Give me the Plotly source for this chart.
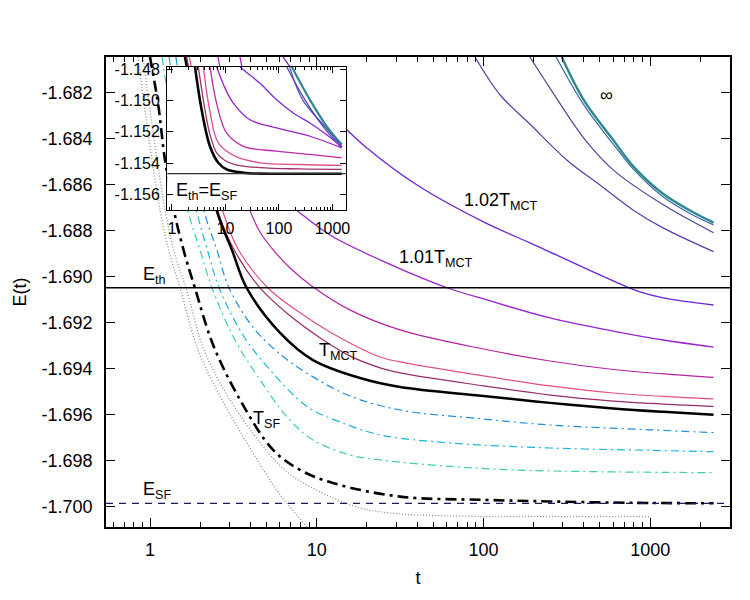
import plotly.graph_objects as go

# ---------------- tick labels ----------------
x_ticks = [1, 10, 100, 1000]
x_ticktext = ["1", "10", "100", "1000"]
y_ticks = [-1.682, -1.684, -1.686, -1.688, -1.690, -1.692, -1.694, -1.696, -1.698, -1.700]
y_ticktext = ["-1.682", "-1.684", "-1.686", "-1.688", "-1.690", "-1.692", "-1.694", "-1.696", "-1.698", "-1.700"]
inset_y_ticks = [-1.148, -1.150, -1.152, -1.154, -1.156]
inset_y_ticktext = ["-1.148", "-1.150", "-1.152", "-1.154", "-1.156"]

# ---------------- reference energies ----------------
E_th = -1.69048
E_SF = -1.69984
E_th_inset = -1.15466

# ---------------- main panel curves: t, E(t) ----------------
t_dotA = [0.847, 0.933, 1.028, 1.164, 1.318, 1.514, 1.941, 2.704, 3.98, 5.86, 8.71, 10.5]
E_dotA = [-1.68046, -1.68276, -1.68493, -1.68732, -1.68906, -1.69049, -1.69318, -1.69535, -1.69744, -1.69935, -1.70087, -1.70165]

t_dotB = [0.908, 1.0, 1.102, 1.247, 1.413, 1.644, 2.109, 3.02, 4.70, 6.64, 10.5, 18.2, 31.6, 99.5, 250, 1000]
E_dotB = [-1.68046, -1.68276, -1.68493, -1.68732, -1.68906, -1.69049, -1.69318, -1.69535, -1.69731, -1.69848, -1.69935, -1.70004, -1.70030, -1.70041, -1.70042, -1.70042]

t_sf = [1.0, 1.12, 1.23, 1.41, 1.62, 1.86, 2.39, 3.47, 5.47, 7.94, 12.5, 31.6, 100, 250, 800, 2400]
E_sf = [-1.68046, -1.68254, -1.68493, -1.68732, -1.68906, -1.69049, -1.69296, -1.69535, -1.69752, -1.69839, -1.69896, -1.69955, -1.69969, -1.69976, -1.69982, -1.69984]

t_green = [1.18, 1.318, 1.472, 1.714, 1.995, 2.355, 3.235, 4.57, 6.64, 9.5, 15.8, 24, 63, 150, 500, 2400]
E_green = [-1.68046, -1.68276, -1.68493, -1.68732, -1.68884, -1.69049, -1.69275, -1.69448, -1.69609, -1.69709, -1.69774, -1.69796, -1.69824, -1.69839, -1.69847, -1.69851]

t_cyan = [1.30, 1.46, 1.64, 1.93, 2.21, 2.60, 3.61, 5.25, 8.75, 13.8, 24, 63, 251, 1000, 2400]
E_cyan = [-1.68046, -1.68276, -1.68493, -1.68732, -1.68884, -1.69049, -1.69253, -1.69405, -1.69564, -1.69631, -1.69687, -1.69722, -1.69744, -1.69754, -1.69760]

t_blue = [1.43, 1.60, 1.81, 2.14, 2.52, 2.98, 4.27, 6.45, 9.5, 15.8, 31.6, 100, 251, 1000, 2400]
E_blue = [-1.68046, -1.68276, -1.68493, -1.68732, -1.68884, -1.69049, -1.69231, -1.69353, -1.69435, -1.69518, -1.69579, -1.69618, -1.69644, -1.69665, -1.69677]

t_mct = [1.62, 1.86, 2.13, 2.56, 3.10, 3.80, 6.03, 9.5, 18.2, 31.6, 100, 251, 600, 1200, 2400]
E_mct = [-1.68046, -1.68276, -1.68493, -1.68732, -1.68884, -1.69049, -1.69244, -1.69362, -1.69440, -1.69479, -1.69518, -1.69548, -1.69572, -1.69587, -1.69600]

t_e = [1.66, 1.90, 2.18, 2.60, 3.20, 4.57, 6.92, 10.5, 15.8, 24, 31.6, 100, 251, 600, 1200, 2400]
E_e = [-1.68046, -1.68276, -1.68493, -1.68732, -1.68884, -1.69049, -1.69170, -1.69266, -1.69344, -1.69396, -1.69418, -1.69474, -1.69514, -1.69540, -1.69553, -1.69563]

t_d = [1.72, 2.00, 2.30, 2.78, 3.40, 5.1, 7.94, 12.0, 24, 31.6, 100, 251, 600, 1200, 2400]
E_d = [-1.68046, -1.68276, -1.68493, -1.68732, -1.68884, -1.69049, -1.69157, -1.69240, -1.69349, -1.69370, -1.69431, -1.69474, -1.69505, -1.69520, -1.69531]

t_c = [2.558, 2.94, 3.33, 3.87, 4.57, 5.62, 6.92, 9.33, 15.8, 31.6, 100, 251, 600, 1200, 2400]
E_c = [-1.68046, -1.68276, -1.68493, -1.68688, -1.68806, -1.68893, -1.68962, -1.69040, -1.69144, -1.69231, -1.69314, -1.69366, -1.69403, -1.69422, -1.69437]

t_101 = [3.467, 4.03, 4.9, 6.45, 7.94, 12.0, 24, 60.5, 105, 251, 600, 1200, 2400]
E_101 = [-1.68046, -1.68276, -1.68493, -1.68667, -1.68723, -1.68819, -1.68927, -1.69048, -1.69101, -1.69179, -1.69236, -1.69275, -1.69306]

t_102 = [6.28, 7.94, 10.0, 14.8, 20, 40, 100, 190, 251, 600, 870, 1200, 2400]
E_102 = [-1.68046, -1.68146, -1.68220, -1.68354, -1.68441, -1.68602, -1.68762, -1.68853, -1.68893, -1.69018, -1.69066, -1.69092, -1.69123]

t_L4 = [89, 126, 190, 316, 500, 789, 1195, 2400]
E_L4 = [-1.68046, -1.68211, -1.68337, -1.68493, -1.68602, -1.68710, -1.68788, -1.68891]

t_L3 = [190, 250, 400, 600, 1200, 2400]
E_L3 = [-1.68046, -1.68180, -1.68398, -1.68536, -1.68688, -1.68809]

t_L2 = [273, 400, 600, 800, 1200, 1800, 2400]
E_L2 = [-1.68046, -1.68254, -1.68424, -1.68536, -1.68654, -1.68732, -1.68775]

t_inf = [295, 400, 600, 800, 1200, 1800, 2400]
E_inf = [-1.68046, -1.68233, -1.68406, -1.68524, -1.68641, -1.68719, -1.68765]

# ---------------- inset curves ----------------
ti_black = [2.69, 3.58, 5.12, 7.33, 10.5, 21.5, 44.3, 157, 1489]
Ei_black = [-1.14785, -1.15059, -1.15292, -1.15397, -1.15439, -1.15460, -1.15466, -1.15467, -1.15467]
ti_p5 = [3.10, 4.14, 5.13, 6.85, 9.77, 15.1, 44.2, 247, 1489]
Ei_p5 = [-1.14785, -1.15060, -1.15218, -1.15334, -1.15382, -1.15408, -1.15428, -1.15436, -1.15439]
ti_p4 = [3.85, 5.13, 7.34, 15.1, 44.2, 247, 1489]
Ei_p4 = [-1.14785, -1.15072, -1.15270, -1.15355, -1.15397, -1.15408, -1.15414]
ti_p3 = [5.13, 6.93, 10.5, 21.5, 90.4, 379, 1489]
Ei_p3 = [-1.14785, -1.15028, -1.15207, -1.15292, -1.15323, -1.15344, -1.15365]
ti_p2 = [6.85, 9.77, 14.0, 28.7, 90.4, 379, 1489]
Ei_p2 = [-1.14785, -1.14920, -1.15017, -1.15123, -1.15175, -1.15228, -1.15302]
ti_p1 = [16.9, 20.1, 44.2, 90.4, 185, 379, 780, 1489]
Ei_p1 = [-1.1477, -1.14796, -1.14891, -1.14996, -1.15080, -1.15144, -1.15218, -1.15296]
ti_purp = [139, 307, 694, 1489]
Ei_purp = [-1.14785, -1.14996, -1.15173, -1.15302]
ti_blue = [157, 277, 736, 1489]
Ei_blue = [-1.14785, -1.14996, -1.15170, -1.15292]
ti_teal = [173, 247, 379, 780, 1489]
Ei_teal = [-1.14785, -1.14882, -1.14996, -1.15165, -1.15281]

# ---------------- axes ranges ----------------
main_xrange = [-0.264, 3.479]
main_yrange = [-1.70087, -1.68046]
inset_xrange = [-0.088, 3.247]
inset_yrange = [-1.156975, -1.14785]

FONT = "Liberation Sans, Arial, Helvetica, sans-serif"
DD = "8px,4px,2px,4px"
DD_THICK = "11px,5px,3px,5px"
SMOOTH = 1.0

fig = go.Figure()

main_styles = [
    (t_dotA, E_dotA, "#8c8c8c", 1.3, "1px,2px"),
    (t_dotB, E_dotB, "#8c8c8c", 1.3, "1px,2px"),
    (t_green, E_green, "#3ccfae", 1.2, DD),
    (t_cyan, E_cyan, "#1cb6d8", 1.2, DD),
    (t_blue, E_blue, "#1c8ee6", 1.2, DD),
    (t_sf, E_sf, "black", 2.6, DD_THICK),
    (t_L4, E_L4, "#5a3cb0", 1.2, "solid"),
    (t_L3, E_L3, "#4848a0", 1.2, "solid"),
    (t_L2, E_L2, "#3b66a8", 1.2, "solid"),
    (t_inf, E_inf, "#2b8a8c", 2.4, "solid"),
    (t_102, E_102, "#6c24d8", 1.3, "solid"),
    (t_101, E_101, "#9b22d2", 1.3, "solid"),
    (t_c, E_c, "#b8229e", 1.2, "solid"),
    (t_d, E_d, "#e2507c", 1.2, "solid"),
    (t_e, E_e, "#9a2a6a", 1.2, "solid"),
    (t_mct, E_mct, "black", 2.5, "solid"),
]
for tx, ey, col, w, dash in main_styles:
    fig.add_trace(go.Scatter(x=tx, y=ey, mode="lines", xaxis="x", yaxis="y",
                             line=dict(color=col, width=w, dash=dash, shape="spline", smoothing=SMOOTH),
                             hoverinfo="skip"))

# inset white background (covers main curves under the inset)
x0i, x1i = 10 ** inset_xrange[0], 10 ** inset_xrange[1]
fig.add_trace(go.Scatter(x=[x0i, x1i, x1i, x0i, x0i],
                         y=[inset_yrange[0], inset_yrange[0], inset_yrange[1], inset_yrange[1], inset_yrange[0]],
                         mode="lines", fill="toself", fillcolor="white", line=dict(width=0),
                         xaxis="x2", yaxis="y2", hoverinfo="skip"))

inset_styles = [
    (ti_teal, Ei_teal, "#2b8a8c", 2.2),
    (ti_blue, Ei_blue, "#3f5aa8", 1.2),
    (ti_purp, Ei_purp, "#6434c0", 1.2),
    (ti_p1, Ei_p1, "#7a2ad8", 1.3),
    (ti_p2, Ei_p2, "#9a22cc", 1.3),
    (ti_p3, Ei_p3, "#c02aa8", 1.3),
    (ti_p4, Ei_p4, "#e0508a", 1.3),
    (ti_p5, Ei_p5, "#a0306a", 1.3),
    (ti_black, Ei_black, "black", 2.6),
]
for tx, ey, col, w in inset_styles:
    fig.add_trace(go.Scatter(x=tx, y=ey, mode="lines", xaxis="x2", yaxis="y2",
                             line=dict(color=col, width=w, shape="spline", smoothing=SMOOTH),
                             hoverinfo="skip"))

minor_main = [m * 10 ** k for k in range(-1, 4) for m in range(2, 10)
              if 10 ** main_xrange[0] < m * 10 ** k < 10 ** main_xrange[1]]
minor_inset = [m * 10 ** k for k in range(-1, 4) for m in range(2, 10)
               if 10 ** inset_xrange[0] < m * 10 ** k < 10 ** inset_xrange[1]]

axis_common = dict(showline=True, linecolor="black", mirror="ticks", ticks="inside",
                   tickcolor="black", showgrid=False, zeroline=False)

fig.update_layout(
    width=750, height=600, autosize=False,
    margin=dict(l=106, r=20, t=57, b=73, pad=0),
    paper_bgcolor="white", plot_bgcolor="white",
    showlegend=False,
    font=dict(family=FONT, size=18, color="black"),
    xaxis=dict(type="log", range=main_xrange, domain=[0, 1], anchor="y",
               linewidth=1.5, ticklen=9, tickwidth=1.2,
               tickvals=x_ticks, ticktext=x_ticktext, tickfont=dict(size=18),
               minor=dict(tickvals=minor_main, ticks="inside", ticklen=5, tickwidth=1, tickcolor="black"),
               ticklabelstandoff=6,
               title=dict(text="t", font=dict(size=18), standoff=12), automargin=False,
               **axis_common),
    yaxis=dict(range=main_yrange, domain=[0, 1], anchor="x",
               linewidth=1.5, ticklen=9, tickwidth=1.2,
               tickvals=y_ticks, ticktext=y_ticktext, tickfont=dict(size=18),
               ticklabelstandoff=8,
               title=dict(text="E(t)", font=dict(size=18), standoff=10), automargin=False,
               **axis_common),
    xaxis2=dict(type="log", range=inset_xrange, domain=[0.0982, 0.3841], anchor="y2",
                linewidth=1.3, ticklen=6, tickwidth=1,
                tickvals=x_ticks, ticktext=x_ticktext, tickfont=dict(size=16),
                minor=dict(tickvals=minor_inset, ticks="inside", ticklen=3, tickwidth=1, tickcolor="black"),
                ticklabelstandoff=4, automargin=False,
                **axis_common),
    yaxis2=dict(range=inset_yrange, domain=[0.6745, 0.9794], anchor="x2",
                linewidth=1.3, ticklen=6, tickwidth=1,
                tickvals=inset_y_ticks, ticktext=inset_y_ticktext, tickfont=dict(size=16),
                ticklabelstandoff=3, automargin=False,
                **axis_common),
)

# reference energy lines
fig.add_shape(type="line", xref="x domain", x0=0, x1=1, yref="y", y0=E_th, y1=E_th,
              line=dict(color="black", width=1.3))
fig.add_shape(type="line", xref="x domain", x0=0, x1=1, yref="y", y0=E_SF, y1=E_SF,
              line=dict(color="#1a1a5e", width=1.2, dash="7px,6px"))
fig.add_shape(type="line", xref="x2 domain", x0=0, x1=1, yref="y2", y0=E_th_inset, y1=E_th_inset,
              line=dict(color="#333333", width=1.2))

ann_font = dict(family=FONT, size=18, color="black")
labels = [
    ("E<sub>th</sub>", "x", "y", -0.05, E_th, "left", "bottom"),
    ("E<sub>SF</sub>", "x", "y", -0.05, E_SF, "left", "bottom"),
    ("T<sub>MCT</sub>", "x", "y", 1.01, -1.69327, "left", "middle"),
    ("T<sub>SF</sub>", "x", "y", 0.61, -1.69622, "left", "middle"),
    ("1.01T<sub>MCT</sub>", "x", "y", 1.4895, -1.68923, "left", "middle"),
    ("1.02T<sub>MCT</sub>", "x", "y", 1.8795, -1.68674, "left", "middle"),
    ("\u221e", "x", "y", 2.7397, -1.68211, "center", "middle"),
    ("E<sub>th</sub>=E<sub>SF</sub>", "x2", "y2", 0.056, -1.15577, "left", "middle"),
]
for txt, xr, yr, xv, yv, xa, ya in labels:
    fig.add_annotation(text=txt, xref=xr, yref=yr, x=xv, y=yv, xanchor=xa, yanchor=ya,
                       showarrow=False, font=ann_font, borderpad=0)

fig.write_html("out.html")
